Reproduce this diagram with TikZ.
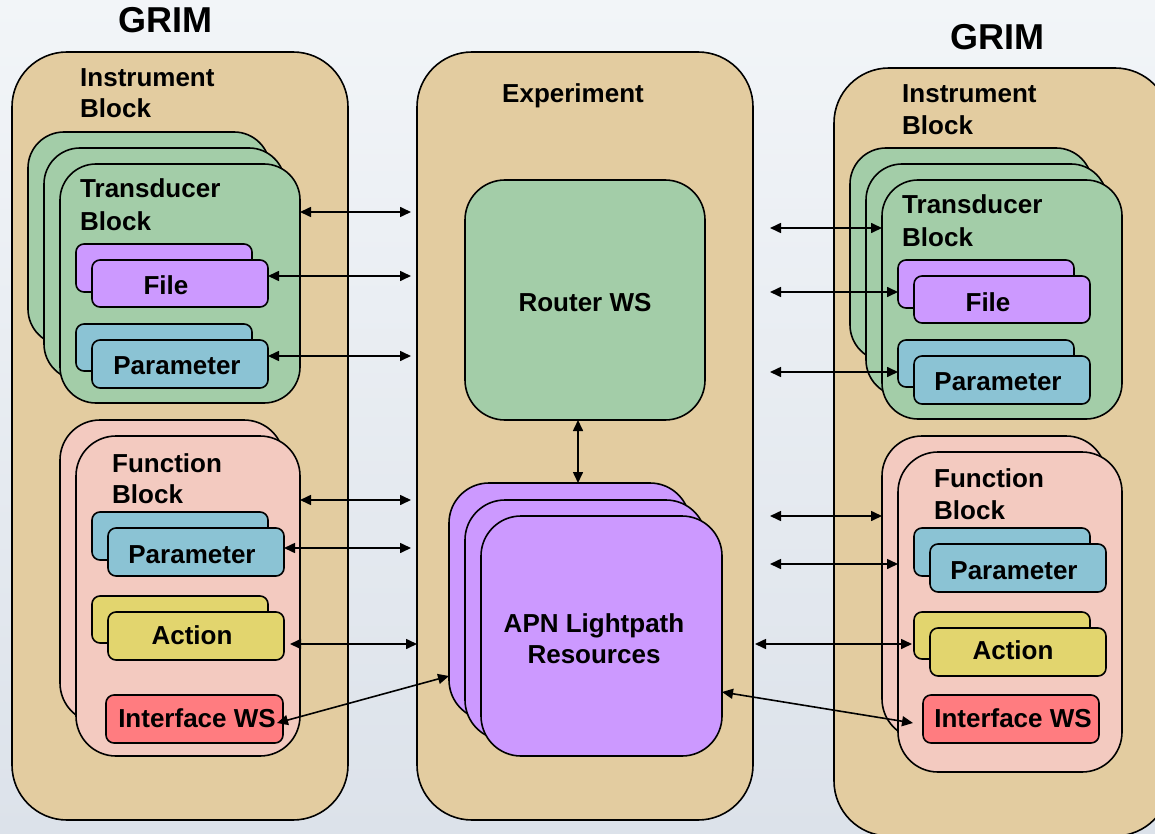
\documentclass[tikz,border=0pt]{standalone}
\usepackage{fontspec}
\setmainfont{Liberation Sans}
\usetikzlibrary{arrows.meta}

\definecolor{blkTan}{HTML}{E3CCA0}
\definecolor{blkGreen}{HTML}{A3CDA8}
\definecolor{blkPurple}{HTML}{CC99FF}
\definecolor{blkBlue}{HTML}{8BC3D4}
\definecolor{blkPink}{HTML}{F3CAC0}
\definecolor{blkYellow}{HTML}{E2D56E}
\definecolor{blkRed}{HTML}{FF7C80}
\definecolor{bgTop}{HTML}{F2F5F8}
\definecolor{bgBot}{HTML}{DCE2EA}

% rounded box from corner (x1,y1) to (x2,y2): \rbox{style}{x1}{y1}{x2}{y2}{name}
\newcommand\rbox[6]{\node[#1,minimum width={#4-#2},minimum height={#5-#3}] (#6) at ({(#2+#4)/2},{(#3+#5)/2}) {};}

\tikzset{
  box/.style 2 args={draw=black, fill=#1, rounded corners=#2, line width=1.6pt,
                     inner sep=0pt, outer sep=0pt},
  lbl/.style={font=\fontsize{26}{32}\selectfont\bfseries, inner sep=0pt, anchor=base west},
  clbl/.style={font=\fontsize{26}{32}\selectfont\bfseries, inner sep=0pt, anchor=base},
  title/.style={font=\fontsize{36}{40}\selectfont\bfseries, inner sep=0pt, anchor=base},
  dbl/.style={{Triangle[length=11pt,width=10pt]}-{Triangle[length=11pt,width=10pt]}, line width=1.6pt}
}

\begin{document}
\begin{tikzpicture}[x=1pt,y=-1pt]
\useasboundingbox (0,0) rectangle (1155,834);
\begin{scope}
\clip (0,0) rectangle (1155,834);
\shade[top color=bgTop, bottom color=bgBot] (0,0) rectangle (1155,834);

% outer containers
\rbox{box={blkTan}{55}}{12}{52}{348}{820}{grimL}
\rbox{box={blkTan}{55}}{417}{52}{753}{820}{exp}
\rbox{box={blkTan}{55}}{834}{68}{1170}{836}{grimR}

% ---- left instrument block ----
\rbox{box={blkGreen}{36}}{28}{132}{270}{345}{tbL}
\rbox{box={blkGreen}{36}}{44}{148}{285}{380}{tmL}
\rbox{box={blkGreen}{36}}{60}{164}{300}{403}{tfL}
\rbox{box={blkPurple}{8}}{76}{244}{252}{292}{fbL}
\rbox{box={blkPurple}{8}}{92}{260}{268}{307}{fL}
\rbox{box={blkBlue}{8}}{76}{324}{252}{371}{pbL}
\rbox{box={blkBlue}{8}}{92}{340}{268}{388}{pL}

\rbox{box={blkPink}{40}}{60}{420}{284}{723}{nbL}
\rbox{box={blkPink}{40}}{76}{436}{300}{756}{nfL}
\rbox{box={blkBlue}{8}}{92}{512}{268}{560}{qbL}
\rbox{box={blkBlue}{8}}{108}{528}{284}{576}{qL}
\rbox{box={blkYellow}{8}}{92}{596}{268}{643}{abL}
\rbox{box={blkYellow}{8}}{108}{612}{284}{660}{aL}
\rbox{box={blkRed}{8}}{106}{695}{283}{743}{iL}

% ---- experiment ----
\rbox{box={blkGreen}{40}}{465}{180}{705}{420}{rt}
\rbox{box={blkPurple}{40}}{449}{483}{690}{720}{apB}
\rbox{box={blkPurple}{40}}{465}{500}{706}{740}{apM}
\rbox{box={blkPurple}{40}}{481}{516}{722}{756}{apF}

% ---- right instrument block ----
\rbox{box={blkGreen}{36}}{850}{148}{1092}{361}{tbR}
\rbox{box={blkGreen}{36}}{866}{164}{1107}{396}{tmR}
\rbox{box={blkGreen}{36}}{882}{180}{1122}{419}{tfR}
\rbox{box={blkPurple}{8}}{898}{260}{1074}{308}{fbR}
\rbox{box={blkPurple}{8}}{914}{276}{1090}{323}{fR}
\rbox{box={blkBlue}{8}}{898}{340}{1074}{387}{pbR}
\rbox{box={blkBlue}{8}}{914}{356}{1090}{404}{pR}

\rbox{box={blkPink}{40}}{882}{436}{1106}{739}{nbR}
\rbox{box={blkPink}{40}}{898}{452}{1122}{772}{nfR}
\rbox{box={blkBlue}{8}}{914}{528}{1090}{576}{qbR}
\rbox{box={blkBlue}{8}}{930}{544}{1106}{592}{qR}
\rbox{box={blkYellow}{8}}{914}{612}{1090}{659}{abR}
\rbox{box={blkYellow}{8}}{930}{628}{1106}{676}{aR}
\rbox{box={blkRed}{8}}{923}{695}{1099}{743}{iR}

% ---- labels ----
\node[title] (tGrimL) at (165,33) {GRIM};
\node[title] (tGrimR) at (997,50) {GRIM};

\node[lbl] (tInsL1) at (80,87) {Instrument};
\node[lbl] (tInsL2) at (80,118) {Block};
\node[lbl] (tTrL1) at (80,198) {Transducer};
\node[lbl] (tTrL2) at (80,230) {Block};
\node[clbl] (tFileL) at (166,294) {File};
\node[clbl] (tParL) at (177,374) {Parameter};
\node[lbl] (tFnL1) at (112,472) {Function};
\node[lbl] (tFnL2) at (112,503) {Block};
\node[clbl] (tPar2L) at (192,563) {Parameter};
\node[clbl] (tActL) at (192,644) {Action};
\node[clbl] (tIfL) at (197,727) {Interface WS};

\node[clbl] (tExp) at (573,103) {Experiment};
\node[clbl] (tRt) at (585,311) {Router WS};
\node[clbl] (tApn1) at (594,632) {APN Lightpath};
\node[clbl] (tApn2) at (594,663) {Resources};

\node[lbl] (tInsR1) at (902,103) {Instrument};
\node[lbl] (tInsR2) at (902,135) {Block};
\node[lbl] (tTrR1) at (902,214) {Transducer};
\node[lbl] (tTrR2) at (902,246) {Block};
\node[clbl] (tFileR) at (988,311) {File};
\node[clbl] (tParR) at (998,390) {Parameter};
\node[lbl] (tFnR1) at (934,487) {Function};
\node[lbl] (tFnR2) at (934,519) {Block};
\node[clbl] (tPar2R) at (1014,579) {Parameter};
\node[clbl] (tActR) at (1013,659) {Action};
\node[clbl] (tIfR) at (1013,727) {Interface WS};

% ---- connectors, left side ----
\coordinate (a1) at (411,212);
\coordinate (a2) at (411,276);
\coordinate (a3) at (411,356);
\coordinate (a4) at (411,500);
\coordinate (a5) at (411,548);
\coordinate (a6) at (0,644);
\coordinate (a7) at (0,676);
\draw[dbl] (tfL.east |- a1) -- (a1);
\draw[dbl] (fL.east |- a2) -- (a2);
\draw[dbl] (pL.east |- a3) -- (a3);
\draw[dbl] (nfL.east |- a4) -- (a4);
\draw[dbl] (qL.east |- a5) -- (a5);
\draw[dbl] ([xshift=6pt]aL.east |- a6) -- (exp.west |- a6);
\draw[dbl] ([shift={(-6,4)}]iL.east) -- (apB.west |- a7);

% router to lightpath resources
\coordinate (v) at (578,0);
\draw[dbl] (rt.south -| v) -- (apB.north -| v);

% ---- connectors, right side ----
\coordinate (b1) at (770,228);
\coordinate (b2) at (770,292);
\coordinate (b3) at (770,372);
\coordinate (b4) at (770,516);
\coordinate (b5) at (770,564);
\coordinate (b6) at (0,644);
\coordinate (b7) at (0,692);
\draw[dbl] (b1) -- (tfR.west |- b1);
\draw[dbl] (b2) -- (fbR.west |- b2);
\draw[dbl] (b3) -- (pbR.west |- b3);
\draw[dbl] (b4) -- (nbR.west |- b4);
\draw[dbl] (b5) -- (nfR.west |- b5);
\draw[dbl] ([xshift=2pt]exp.east |- b6) -- ([xshift=-2pt]abR.west |- b6);
\draw[dbl] (apF.east |- b7) -- ([shift={(-10,4)}]iR.west);
\end{scope}
\end{tikzpicture}
\end{document}
